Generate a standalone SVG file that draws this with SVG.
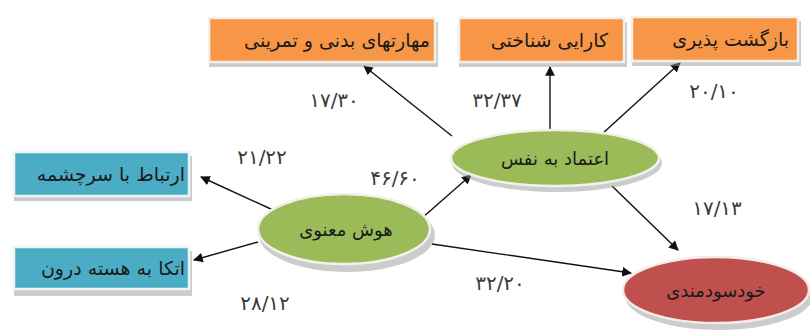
<svg xmlns="http://www.w3.org/2000/svg" width="810" height="333" viewBox="0 0 810 333">
<defs>
<style>
.sh{fill:#9a9a9a;opacity:0.5}
.or{fill:#F79646;stroke:#f3f0ea;stroke-width:2.5}
.bl{fill:#4BACC6;stroke:#eef3f5;stroke-width:2.5}
.gr{fill:#9BBB59;stroke:#f0f2ea;stroke-width:2.5}
.rd{fill:#C0504D;stroke:#f4eceb;stroke-width:2.5}
.t{font-family:"DejaVu Sans",sans-serif;font-size:19px;fill:#1a1a1a}
.e{font-family:"DejaVu Sans",sans-serif;font-size:18px;fill:#1a1a1a;text-anchor:middle}
.n{font-family:"DejaVu Sans",sans-serif;font-size:20px;fill:#3a3a3a;text-anchor:middle}
.c line{stroke:#111;stroke-width:1.4;marker-end:url(#ah)}
</style>
<marker id="ah" viewBox="0 0 10 10" refX="9" refY="5" markerWidth="7" markerHeight="7" orient="auto" markerUnits="strokeWidth">
<path d="M0,0 L10,5 L0,10 z" fill="#111"/>
</marker>
</defs>
<rect width="810" height="333" fill="#fff"/>
<g class="c" id="connectors">
<line x1="452" y1="136" x2="364" y2="66"/>
<line x1="550" y1="130" x2="550" y2="67"/>
<line x1="602" y1="134" x2="680" y2="63"/>
<line x1="612" y1="186" x2="678" y2="250"/>
<line x1="422" y1="218" x2="471" y2="175"/>
<line x1="432" y1="244" x2="631" y2="273"/>
<line x1="273" y1="210" x2="201" y2="177"/>
<line x1="258" y1="242" x2="194" y2="260"/>
</g>
<g id="box-physical">
<rect class="sh" x="209" y="22" width="229" height="45"/>
<rect class="or" x="209" y="18" width="226" height="44"/>
<text class="t" x="430" y="47" text-anchor="end">مهارتهای بدنی و تمرینی</text>
</g>
<g id="box-cognitive">
<rect class="sh" x="459" y="22" width="168" height="45"/>
<rect class="or" x="459" y="18" width="165" height="44"/>
<text class="t" x="608" y="47" text-anchor="end">کارایی شناختی</text>
</g>
<g id="box-resilience">
<rect class="sh" x="632" y="21" width="169" height="45"/>
<rect class="or" x="632" y="17" width="166" height="44"/>
<text class="t" x="789" y="46" text-anchor="end">بازگشت پذیری</text>
</g>
<g id="box-source">
<rect class="sh" x="14" y="156" width="178" height="45"/>
<rect class="bl" x="14" y="152" width="175" height="44"/>
<text class="t" x="185" y="181" text-anchor="end">ارتباط با سرچشمه</text>
</g>
<g id="box-core">
<rect class="sh" x="14" y="251" width="178" height="45"/>
<rect class="bl" x="14" y="247" width="175" height="42"/>
<text class="t" x="185" y="275" text-anchor="end">اتکا به هسته درون</text>
</g>
<g id="node-spiritual">
<ellipse class="sh" cx="347" cy="235" rx="88" ry="37"/>
<ellipse class="gr" cx="344" cy="229" rx="86" ry="35"/>
<text class="e" x="346" y="236">هوش معنوی</text>
</g>
<g id="node-confidence">
<ellipse class="sh" cx="557" cy="163" rx="105" ry="29"/>
<ellipse class="gr" cx="555" cy="158" rx="104" ry="28"/>
<text class="e" x="555" y="165">اعتماد به نفس</text>
</g>
<g id="node-selfefficacy">
<ellipse class="sh" cx="719" cy="296" rx="94" ry="34"/>
<ellipse class="rd" cx="716" cy="290" rx="93" ry="33"/>
<text class="e" x="716" y="297">خودسودمندی</text>
</g>
<g id="labels">
<text class="n" x="334" y="107">۱۷/۳۰</text>
<text class="n" x="497" y="107">۳۲/۳۷</text>
<text class="n" x="714" y="98">۲۰/۱۰</text>
<text class="n" x="262" y="164">۲۱/۲۲</text>
<text class="n" x="395" y="185">۴۶/۶۰</text>
<text class="n" x="265" y="310">۲۸/۱۲</text>
<text class="n" x="717" y="215">۱۷/۱۳</text>
<text class="n" x="500" y="290">۳۲/۲۰</text>
</g>
</svg>
